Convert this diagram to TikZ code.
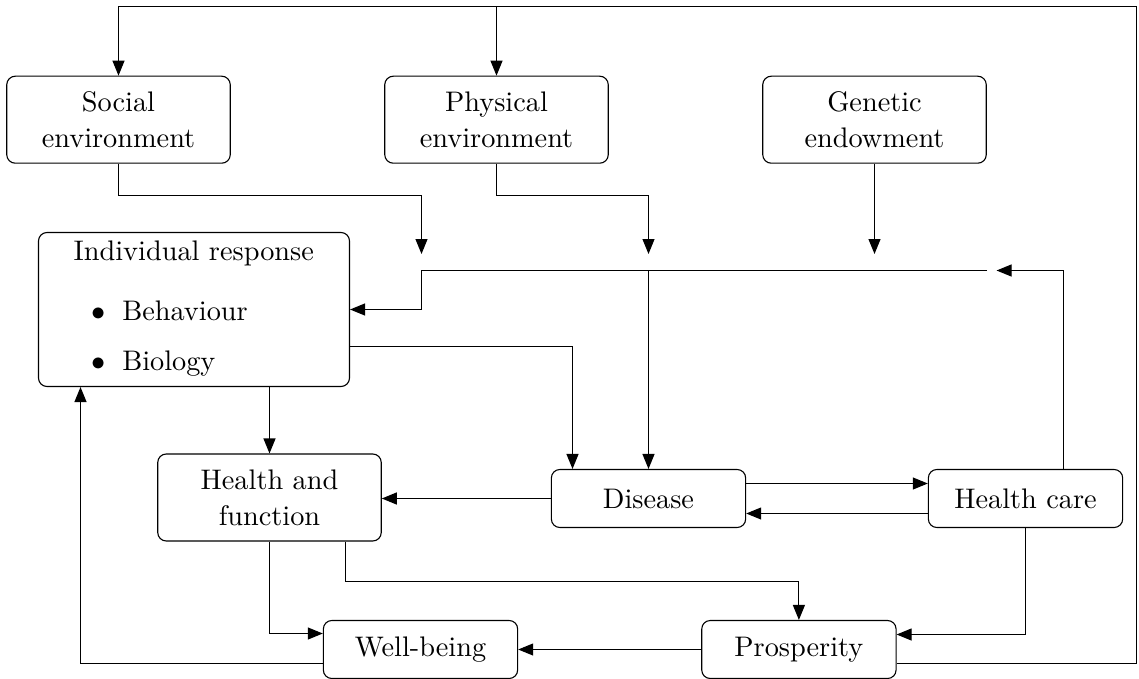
\RequirePackage{fix-cm}
\documentclass[tikz,border=0pt]{standalone}
\usepackage{fontspec}
\setmainfont{lmroman10-regular.otf}
\usetikzlibrary{arrows.meta,calc}
\begin{document}
\begin{tikzpicture}[x=1pt,y=-1pt,
  line width=1.1pt,
  arr/.style={-{Triangle[length=15pt,width=12pt]}},
  box/.style={draw, rounded corners=8.5pt, align=center, inner sep=0pt, font=\fontsize{28.3pt}{36pt}\selectfont},
  wide/.style={box, minimum width=223.5pt, minimum height=87pt},
  narrow/.style={box, minimum width=194.3pt, minimum height=58pt},
  lbl/.style={inner sep=0pt, font=\fontsize{28.3pt}{36pt}\selectfont}]
\useasboundingbox (0,0) rectangle (1139,679);
% nodes
\node[wide] (soc) at (118.5,119.7) {Social\\environment};
\node[wide] (phy) at (496.5,119.7) {Physical\\environment};
\node[wide] (gen) at (874.5,119.7) {Genetic\\endowment};
\node[box, minimum width=311pt, minimum height=154pt] (ir) at (194,309.5) {};
\node[lbl, anchor=base] (irt) at (193.8,260.7) {Individual response};
\node[lbl, anchor=base] (b1) at (98.7,320.7) {$\bullet$};
\node[lbl, anchor=base west] (beh) at (121.7,320.7) {Behaviour};
\node[lbl, anchor=base] (b2) at (98.7,370) {$\bullet$};
\node[lbl, anchor=base west] (bio) at (121.7,370) {Biology};
\node[wide] (hf) at (269.5,497.5) {Health and\\function};
\node[narrow] (dis) at (648.5,498.5) {Disease};
\node[narrow] (hc) at (1025.5,498.5) {Health care};
\node[narrow] (wb) at (420.5,649.5) {Well-being};
\node[narrow] (pro) at (798.9,649.5) {Prosperity};
\node[inner sep=0pt, minimum width=8.4pt, minimum height=1pt] (j) at (991.8,270.5) {};
\coordinate (top) at (1136.5,6.5);
\coordinate (s1) at (421.5,254);
\coordinate (p1) at (648.5,254);
\coordinate (g1) at (874.5,254);
\coordinate (k1) at (421.5,270.5);
% connectors
\draw[arr] ([yshift=-14pt]pro.east) -| (top) -| (soc.north);
\draw[arr] (top -| phy.north) -- (phy.north);
\draw[arr] (soc.south) -- ++(0,31.8) -| (s1);
\draw[arr] (phy.south) -- ++(0,31.8) -| (p1);
\draw[arr] (gen.south) -- (g1);
\draw[arr] ([xshift=38pt]hc.north) |- (j.east);
\draw[arr] (j.west) -- (k1) |- (ir.east);
\draw[arr] (k1 -| dis.north) -- (dis.north);
\draw[arr] ([yshift=-37pt]ir.east) -| ([xshift=-76pt]dis.north);
\draw[arr] (ir.south -| hf.north) -- (hf.north);
\draw[arr] (dis.west) -- (dis.west -| hf.east);
\draw[arr] ([yshift=15pt]dis.east) -- ([yshift=15pt]hc.west);
\draw[arr] ([yshift=-15pt]hc.west) -- ([yshift=-15pt]dis.east);
\draw[arr] (hc.south) |- ([yshift=15pt]pro.east);
\draw[arr] ([xshift=76pt]hf.south) -- ++(0,40) -| (pro.north);
\draw[arr] (hf.south) |- ([yshift=16pt]wb.west);
\draw[arr] (pro.west) -- (wb.east);
\draw[arr] ([yshift=-14pt]wb.west) -| ([xshift=-113.5pt]ir.south);
\end{tikzpicture}
\end{document}
